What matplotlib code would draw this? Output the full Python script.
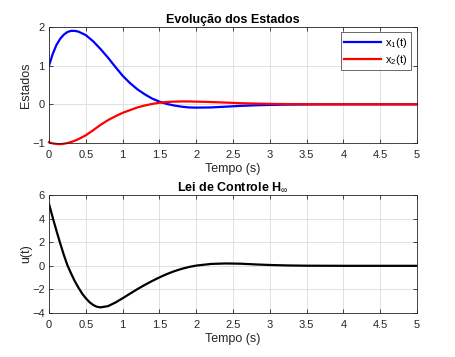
import matplotlib
matplotlib.use('Agg')
import matplotlib.pyplot as plt

plt.rcParams['font.family'] = ['Liberation Sans', 'DejaVu Sans']
plt.rcParams['mathtext.fontset'] = 'custom'
plt.rcParams['mathtext.rm'] = 'Liberation Sans'
plt.rcParams['mathtext.it'] = 'Liberation Sans'

# tempo (s)
t = [0, 0.05, 0.1, 0.15, 0.2, 0.25, 0.3, 0.35, 0.4, 0.5, 0.6, 0.7, 0.8, 0.9,
     1.0, 1.1, 1.2, 1.3, 1.4, 1.5, 1.6, 1.7, 1.8, 1.9, 2.0, 2.2, 2.4, 2.6,
     2.8, 3.0, 3.25, 3.5, 4.0, 4.5, 5.0]

# estados
x1 = [1.0, 1.3, 1.53, 1.69, 1.80, 1.87, 1.90, 1.90, 1.88, 1.79, 1.63, 1.43,
      1.21, 0.97, 0.74, 0.55, 0.39, 0.26, 0.15, 0.07, 0.01, -0.03, -0.06,
      -0.08, -0.085, -0.08, -0.06, -0.04, -0.025, -0.015, -0.007, -0.003,
      0, 0, 0]
x2 = [-0.98, -1.01, -1.025, -1.03, -1.02, -1.0, -0.975, -0.94, -0.90, -0.80,
      -0.67, -0.53, -0.41, -0.31, -0.22, -0.15, -0.08, -0.03, 0.01, 0.04,
      0.06, 0.07, 0.075, 0.075, 0.07, 0.06, 0.045, 0.03, 0.02, 0.012, 0.006,
      0.003, 0, 0, 0]

# lei de controle
t_u = [0, 0.05, 0.1, 0.15, 0.2, 0.25, 0.3, 0.35, 0.4, 0.45, 0.5, 0.55, 0.6,
       0.65, 0.7, 0.8, 0.9, 1.0, 1.1, 1.2, 1.3, 1.4, 1.5, 1.6, 1.7, 1.8, 1.9,
       2.0, 2.2, 2.4, 2.6, 2.8, 3.0, 3.25, 3.5, 4.0, 4.5, 5.0]
u = [5.25, 4.1, 3.0, 1.95, 0.95, 0.05, -0.65, -1.3, -1.85, -2.35, -2.75,
     -3.08, -3.32, -3.47, -3.52, -3.42, -3.12, -2.75, -2.36, -1.98, -1.62,
     -1.29, -0.98, -0.7, -0.46, -0.26, -0.1, 0.02, 0.16, 0.2, 0.18, 0.12,
     0.07, 0.03, 0.01, 0, 0, 0]

fig = plt.figure(figsize=(4.55, 3.57), dpi=100)
ax1 = fig.add_axes([0.1077, 0.5994, 0.809, 0.325])
ax2 = fig.add_axes([0.1077, 0.1232, 0.809, 0.3305])


def estilo(ax):
    ax.set_xlim(0, 5)
    ax.set_xticks([0, 0.5, 1, 1.5, 2, 2.5, 3, 3.5, 4, 4.5, 5])
    ax.set_xticklabels(['0', '0.5', '1', '1.5', '2', '2.5', '3', '3.5', '4', '4.5', '5'])
    ax.grid(True, color='#dcdcdc', linewidth=0.6)
    ax.set_axisbelow(True)
    ax.tick_params(direction='in', length=3, width=0.6, labelsize=8,
                   colors='#262626', top=True, right=True)
    ax.tick_params(axis='x', pad=5)
    ax.tick_params(axis='y', pad=3)
    for s in ax.spines.values():
        s.set_color('#262626')
        s.set_linewidth(0.6)
    ax.set_xlabel('Tempo (s)', fontsize=9, color='#262626', labelpad=2)


ax1.plot(t, x1, color='#0000ff', lw=1.6, label=r'x$_1$(t)')
ax1.plot(t, x2, color='#ff0000', lw=1.6, label=r'x$_2$(t)', clip_on=False)
ax1.set_ylim(-1, 2)
ax1.set_yticks([-1, 0, 1, 2])
estilo(ax1)
ax1.set_ylabel('Estados', fontsize=9, color='#262626', labelpad=0)
ax1.set_title('Evolução dos Estados', fontsize=9, fontweight='bold', pad=3)
leg = ax1.legend(loc='upper right', fontsize=8, frameon=True, fancybox=False,
                 edgecolor='#262626', handlelength=3.3, borderpad=0.3,
                 labelspacing=0.3, handletextpad=0.4, borderaxespad=0,
                 bbox_to_anchor=(0.983, 0.955))
leg.get_frame().set_linewidth(0.6)

ax2.plot(t_u, u, color='black', lw=1.6)
ax2.set_ylim(-4, 6)
ax2.set_yticks([-4, -2, 0, 2, 4, 6])
estilo(ax2)
ax2.set_ylabel('u(t)', fontsize=9, color='#262626', labelpad=0)
ax2.set_title(r'Lei de Controle H$_\infty$', fontsize=9, fontweight='bold', pad=3)

fig.savefig('out.png', dpi=100)
